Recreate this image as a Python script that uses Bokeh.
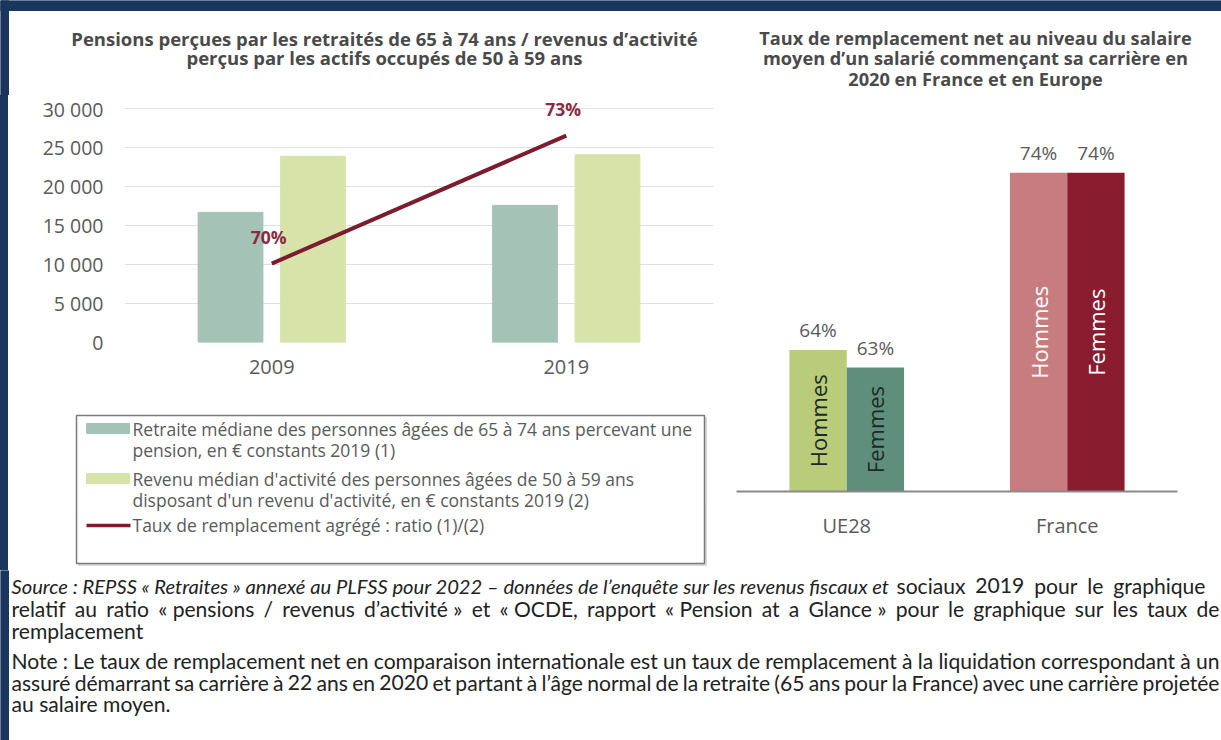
import math
import subprocess
from bokeh.plotting import figure
from bokeh.layouts import column, row
from bokeh.models import ColumnDataSource, FactorRange, Range1d, FixedTicker, Spacer
from bokeh.transform import dodge
from bokeh.core.properties import value
from bokeh.embed import file_html
from bokeh.resources import INLINE

# ---------------- data ----------------
years = ["2009", "2019"]
retraite_mediane = [16700, 17600]
revenu_median = [23900, 24100]
taux_agrege = [70, 73]
y_ticks = [0, 5000, 10000, 15000, 20000, 25000, 30000]
y_tick_labels = ["0", "5 000", "10 000", "15 000", "20 000", "25 000", "30 000"]

zones = ["UE28", "France"]
taux_hommes = [64, 74]
taux_femmes = [63, 74]
bar_names = ["Hommes", "Femmes"]

left_title = ["Pensions perçues par les retraités de 65 à 74 ans / revenus d’activité",
              "perçus par les actifs occupés de 50 à 59 ans"]
right_title = ["Taux de remplacement net au niveau du salaire",
               "moyen d’un salarié commençant sa carrière en",
               "2020 en France et en Europe"]
legend_texts = [
    ["Retraite médiane des personnes âgées de 65 à 74 ans percevant une",
     "pension, en € constants 2019 (1)"],
    ["Revenu médian d'activité des personnes âgées de 50 à 59 ans",
     "disposant d'un revenu d'activité, en € constants 2019 (2)"],
    ["Taux de remplacement agrégé : ratio (1)/(2)"],
]
source_italic = "Source : REPSS «\u00a0Retraites\u00a0» annexé au PLFSS pour 2022 – données de l’enquête sur les revenus fiscaux et"
source_normal = "sociaux 2019 pour le graphique"
source_line2 = "relatif au ratio «\u00a0pensions / revenus d’activité\u00a0» et «\u00a0OCDE, rapport «\u00a0Pension at a Glance\u00a0» pour le graphique sur les taux de"
source_line3 = "remplacement"
note_line1 = "Note : Le taux de remplacement net en comparaison internationale est un taux de remplacement à la liquidation correspondant à un"
note_line2 = "assuré démarrant sa carrière à 22 ans en 2020 et partant à l’âge normal de la retraite (65 ans pour la France) avec une carrière projetée"
note_line3 = "au salaire moyen."

# ---------------- style ----------------
NAVY = "#1b365d"
TEAL = "#a5c2b7"
PALE = "#d8e3aa"
LINE_RED = "#7b1d2e"
LABEL_RED = "#8c2a44"
UE_H, UE_F, FR_H, FR_F = "#b9cc79", "#5f8f7c", "#c77d80", "#891d2f"
TXT = "#5a5a5a"
TITLE = "#4a4a4a"
BODY = "#222222"
FONT = "Open Sans"
BFONT = "Lato"


def canvas(w, h, x0, y0):
    p = figure(width=w, height=h, x_range=Range1d(x0, x0 + w), y_range=Range1d(y0 + h, y0),
               x_axis_location=None, y_axis_location=None, toolbar_location=None,
               output_backend="svg", min_border=0, outline_line_color=None)
    p.grid.visible = False
    return p


def text_width(txt, size, family, style="Regular"):
    try:
        from PIL import ImageFont
        path = subprocess.run(["fc-match", "-f", "%{file}", f"{family}:style={style}"],
                              capture_output=True, text=True, timeout=5).stdout.strip()
        f = ImageFont.truetype(path, size)
        return f.getlength(txt)
    except Exception:
        return 0.47 * size * len(txt)


def fit_size(txt, target, style):
    s = 19 * target / max(text_width(txt, 19, BFONT, style), 1)
    return round(min(max(s, 16), 23), 2)


# note font sizes fitted to the widths the lines take in the source picture
ISIZE = fit_size(source_italic, 878, "Italic")
NSIZE = fit_size(note_line1, 1213, "Regular")


def btext(p, x, y, t, italic=False):
    p.text(x=[x], y=[y], text=[t], text_align="left", text_baseline="middle",
           text_font=value(BFONT), text_font_size=f"{ISIZE if italic else NSIZE}px",
           text_color=BODY, text_font_style="italic" if italic else "normal")


def justify(p, line, y, x_left, x_right):
    words = line.split(" ")
    ws = [text_width(w, NSIZE, BFONT) for w in words]
    gap = (x_right - x_left - sum(ws)) / (len(words) - 1)
    x = x_left
    for w, wd in zip(words, ws):
        btext(p, x, y, w)
        x += wd + gap


# ---------------- header ----------------
header = canvas(1221, 95, 0, 0)
header.quad(left=[0], right=[1221], top=[0], bottom=[10], color=NAVY)
header.quad(left=[0], right=[8], top=[0], bottom=[95], color=NAVY)
for i, t in enumerate(left_title):
    header.text(x=[384], y=[38 + 19 * i], text=[t], text_align="center", text_baseline="middle",
                text_font=value(FONT), text_font_style="bold", text_font_size="18.5px", text_color=TITLE)
for i, t in enumerate(right_title):
    header.text(x=[975], y=[37 + 20.8 * i], text=[t], text_align="center", text_baseline="middle",
                text_font=value(FONT), text_font_style="bold", text_font_size="18.2px", text_color=TITLE)

# ---------------- left chart ----------------
left = figure(width=712, height=300, x_range=FactorRange(*years), y_range=Range1d(0, 31700),
              toolbar_location=None, output_backend="svg",
              min_border_left=116, min_border_right=7, min_border_top=0, min_border_bottom=53,
              outline_line_color=None)
left.extra_y_ranges = {"ratio": Range1d(68.15, 73.94)}
src = ColumnDataSource(dict(year=years, ret=retraite_mediane, rev=revenu_median,
                            ratio=taux_agrege, lab=[f"{v}%" for v in taux_agrege]))
left.vbar(x=dodge("year", -0.14, range=left.x_range), top="ret", width=0.22, source=src, color=TEAL)
left.vbar(x=dodge("year", 0.14, range=left.x_range), top="rev", width=0.22, source=src, color=PALE)
left.line(x="year", y="ratio", source=src, y_range_name="ratio", color=LINE_RED, line_width=4)
left.text(x="year", y="ratio", text="lab", source=src, y_range_name="ratio",
          text_align="center", text_baseline="middle", y_offset=-27, x_offset=-3,
          text_font=value(FONT), text_font_style="bold", text_font_size="17.5px", text_color=LABEL_RED)

ya = left.yaxis[0]
ya.ticker = FixedTicker(ticks=y_ticks)
ya.major_label_overrides = dict(zip(y_ticks, y_tick_labels))
ya.major_label_standoff = 21
xa = left.xaxis[0]
xa.major_label_standoff = 17
for ax in (xa, ya):
    ax.axis_line_color = None
    ax.major_tick_line_color = None
    ax.minor_tick_line_color = None
    ax.major_tick_in = 0
    ax.major_tick_out = 0
    ax.minor_tick_in = 0
    ax.minor_tick_out = 0
    ax.major_label_text_font = FONT
    ax.major_label_text_color = TXT
ya.major_label_text_font_size = "19.5px"
xa.major_label_text_font_size = "20px"
left.xgrid.grid_line_color = None
left.ygrid.ticker = FixedTicker(ticks=y_ticks)
left.ygrid.grid_line_color = "#e0e0e0"
left.ygrid.grid_line_width = 1.2

# ---------------- legend ----------------
leg = canvas(712, 175, 8, 395)
leg.quad(left=[78], right=[706], top=[417], bottom=[565], color="#d9d9d9")
leg.quad(left=[76], right=[704], top=[415], bottom=[563], fill_color="white",
         line_color="#7a7a7a", line_width=1.5)
leg.quad(left=[86], right=[129], top=[423], bottom=[433], color=TEAL)
leg.quad(left=[86], right=[129], top=[473], bottom=[483], color=PALE)
leg.line(x=[86, 130], y=[525, 525], color=LINE_RED, line_width=3.5)
leg_y = [[428, 449], [478, 499], [524]]
for lines, ys in zip(legend_texts, leg_y):
    for t, yy in zip(lines, ys):
        leg.text(x=[132], y=[yy], text=[t], text_align="left", text_baseline="middle",
                 text_font=value(FONT), text_font_size="17.5px", text_color=TXT)

# ---------------- right chart ----------------
RY0 = 56
right = figure(width=501, height=475, x_range=FactorRange(*zones), y_range=Range1d(RY0, 78.37),
               toolbar_location=None, output_backend="svg", y_axis_location=None,
               min_border_left=16, min_border_right=44, min_border_top=0, min_border_bottom=79,
               outline_line_color=None)
rsrc = ColumnDataSource(dict(
    zone=zones, h=taux_hommes, f=taux_femmes,
    hc=[UE_H, FR_H], fc=[UE_F, FR_F],
    hl=[f"{v}%" for v in taux_hommes], fl=[f"{v}%" for v in taux_femmes],
    hm=[(RY0 + v) / 2 for v in taux_hommes], fm=[(RY0 + v) / 2 for v in taux_femmes],
    hn=[bar_names[0]] * len(zones), fn=[bar_names[1]] * len(zones),
    tc=["#1d2a25", "#ffffff"]))
hx = dodge("zone", -0.13, range=right.x_range)
fx = dodge("zone", 0.13, range=right.x_range)
right.vbar(x=hx, top="h", width=0.26, source=rsrc, fill_color="hc", line_color=None)
right.vbar(x=fx, top="f", width=0.26, source=rsrc, fill_color="fc", line_color=None)
for xx, top, lab in ((hx, "h", "hl"), (fx, "f", "fl")):
    right.text(x=xx, y=top, text=lab, source=rsrc, text_align="center", text_baseline="middle",
               y_offset=-20, text_font=value(FONT), text_font_size="19px", text_color=TXT)
for xx, mid, nm in ((hx, "hm", "hn"), (fx, "fm", "fn")):
    right.text(x=xx, y=mid, text=nm, source=rsrc, angle=math.pi / 2, text_align="center",
               text_baseline="middle", text_font=value(FONT), text_font_size="22px", text_color="tc")
rxa = right.xaxis[0]
rxa.axis_line_color = "#8a8a8a"
rxa.axis_line_width = 2
rxa.major_tick_line_color = None
rxa.minor_tick_line_color = None
rxa.major_tick_in = 0
rxa.major_tick_out = 0
rxa.major_label_standoff = 20
rxa.major_label_text_font = FONT
rxa.major_label_text_font_size = "20px"
rxa.major_label_text_color = TXT
right.grid.visible = False

# ---------------- bottom text ----------------
bottom = canvas(1221, 170, 0, 570)
bottom.quad(left=[0], right=[8], top=[570], bottom=[740], color=NAVY)
btext(bottom, 11, 585, source_italic, italic=True)
justify(bottom, source_normal, 585, 896, 1205)
justify(bottom, source_line2, 608, 11, 1219)
btext(bottom, 11, 630, source_line3)
justify(bottom, note_line1, 660, 11, 1219)
justify(bottom, note_line2, 682, 11, 1219)
btext(bottom, 11, 703, note_line3)

# navy left border of the middle band
strip = Spacer(width=8, height=475, styles={"background-color": NAVY})
middle = row(strip, column(left, column(leg)), right)
layout = column(header, middle, bottom)
open("out.html", "w").write(file_html(layout, INLINE))
